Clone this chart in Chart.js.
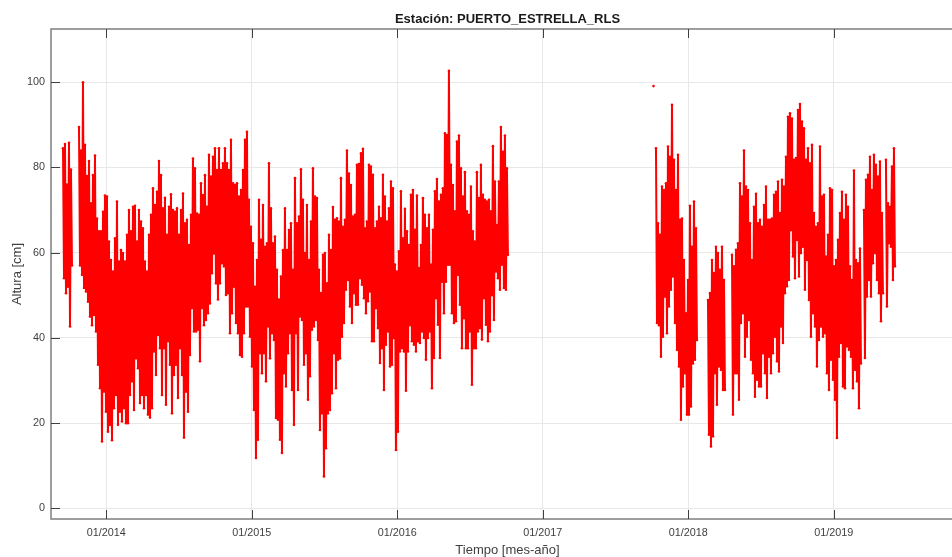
<!DOCTYPE html>
<html>
<head>
<meta charset="utf-8">
<title>PUERTO_ESTRELLA_RLS</title>
<script src="https://cdn.jsdelivr.net/npm/chart.js@4"></script>
<style>
    html, body { margin: 0; padding: 0; background: #fff; overflow: hidden; width: 952px; height: 557px; }
    canvas { display: block; }
</style>
</head>
<body>
<canvas id="tideChart" width="964" height="557"></canvas>
<script>
// DATA, one high and one low every few days (cm)
const startA = 2013.7024;
const highsA = [
    84.5, 85.5, 76, 85.8, 79.5, null, null, null, 89.5, 84, 100, 85.3, 78, 81.5, 71.6, 78.2, 82.8, 68, 65, 65,
    69.6, 73.4, 73.2, 62.6, 58.3, 55.6, 63.4, 72, 57.9, 60.6, 59.9, 57.9, 64.2, 70, 65, 70.8, 71, 62.6, 70, 67.3,
    65.7, 57.9, 55.6, 64.2, 68.9, 75.1, 71.2, 74.3, 81.5, 78.2, 70.4, 72.9, 64.2, 70.8, 73.7, 70, 69.6, 70.4, 64.2, 70,
    73.9, 66.9, 67.7, 61.8, 68.9, 82.1, 79.8, 69.2, 68.9, 76.3, 73.5,
    78.2, 70.8, 83, 77.9, 82.5, 84.5, 79.4, 84.5, 79.4, 81, 84.5, 81, 79.4, 86.5, 76.3, 75.9, 76.3, 73.2, 74.7, 79.4,
    86.5, 88.4, 72.4, 66.1, 62.2, 52, 58.3, 72.4, 63, 71.2, 61.4, 62.2, 81, 70.4, 62.2, 63.8, 56, 49, 54.4, 60.6,
    70.4, 60.6, 65.3, 66.9, 56, 77.5, 66.9, 68.5, 79.6, 72.4, 59.9, 71.2, 58.3, 67.3, 79.8, 73.2, 72.8, 56, 50.5, 59.5,
    59.9, 52.8, 64.2, 60.6, 70.7, 67.7, 68.1, 67.3, 77.5, 66.1, 67.7, 84, 78.6, 75.9, 68.5,
    68.9, 80.6, 80.8, 83.3, 84.4, 65.7, 67.3, 80.6, 80.2, 78.3, 65.7, 67.3, 70.8, 68.1, 78.3, 73.2, 67.3, 70.4, 76.7, 75.1,
    57.2, 55.6, 60.3, 74.4, 63.4, 70.3, 65, 61.8, 73.6, 74.7, 65.4, 73.4, 56.4, 61.8, 72.8, 68.9, 65.7, 68.9, 57.2, 65.4,
    74.4, 77.3, 72, 73.6, 75.1, 88, 87.6, 102.7, 80.6, 75.9, 69.7, 86.1, 87.5, 79.8, 73.2, 78.9, 69.7, 68.9, 75.5, 65,
    62.6, 78.9, 72.8, 80.6, 73.6, 72.4, 72, 72.4, 69.7, 85, 76.7, 66.5, 76.7, 89.5, 83.7, 87.5, 79.8
];
const lowsA = [
    54, 50.5, 52, 42.7, 57, null, null, null, 57, 54.8, 51.7, 50.9, 48.5, 45, 43, 45.4, 41.5, 33.7, 28.2, 15.7,
    27.4, 22.7, 18, 19.6, 16, 23.5, 26.6, 19.6, 22.7, 20.4, 23.5, 20, 20, 26.6, 29.8, 23.1, 35.2, 32.9, 24.7, 26.6,
    23.5, 26.6, 22, 21.3, 23.5, 36.8, 31.3, 40.7, 37.6, 26.6, 37.6, 24.3, 39.2, 33.7, 22.3, 31.3, 33.7, 25.9, 37.6, 31.3,
    16.6, 27.4, 22.7, 36, 47, 41.5, 41.5, 41.9, 34.5, 47, 43,
    44.2, 45.8, 48.1, 55.2, 59.8, 52.8, 49, 52.8, 57.5, 56.8, 50.1, 50.5, 41.1, 45.8, 52, 43.5, 41.1, 36, 35.6, 41.1,
    47.4, 47.4, 40.3, 33.3, 23.1, 11.8, 16.1, 36.4, 31.7, 36.4, 29.8, 42.7, 35.2, 41.1, 39.5, 21.2, 20.8, 16.1, 13, 31.7,
    28.6, 36.4, 41.1, 27.8, 19.6, 41.1, 27.8, 45, 44.2, 33.7, 36.4, 25.5, 31, 41.9, 42.7, 44.2, 39.5, 18.4, 22.3, 7.5,
    14.1, 22.3, 23.1, 27, 36.4, 28.2, 34.9, 35.2, 40.3, 43.5, 51.3, 53.6, 47.4, 43.5, 50.5,
    47.8, 47.8, 54, 52.5, 49.3, 45.8, 48.6, 50.9, 39.2, 39.2, 47, 42.3, 34.1, 37.6, 27.8, 38.4, 41.5, 33.3, 33.7, 40,
    13.7, 18, 36.8, 37.6, 36.8, 27.6, 36.8, 43, 39.2, 38.4, 36.8, 39.2, 38.8, 41.5, 40, 34.9, 40, 41.5, 28.2, 35.3,
    49.3, 43.1, 35.3, 53.2, 45.8, 53.2, 57.2, 57.2, 45.8, 43.5, 43.9, 54.8, 47.8, 37.6, 44.6, 37.6, 37.6, 41.5, 29, 37.6,
    37.6, 41.5, 42.3, 39.6, 49.3, 43.1, 39.2, 41.5, 50, 44.2, 55.6, 54, 51.3, 57.2, 51.7, 51.3, 59.5
];
const startB = 2017.778;
const highsB = [
    84.5, 66.9, 64.2, 75.5, 74.7, 76.3, 84.9, 82.5, 94.7, 81.8, 74.7, 83, 67.7, 68, 58.3, 45.8, 53.6, 71, 61.4, 72,
    65.7, null, null, null, null, null, 48.9, 50.5, 58.3, 55.2, 61.4, 59.9, 56, 61.4, 53.6, null, null, null,
    59.5, 56.8, 60.7, 62.2, 76.3, 73.2, 84, 75.5, 74.7, 66.9, 58.3, 70.8, 73.8, 66.9, 67.7, 66.1, 71.2, 75.5, 67.7, 67.7, 68, 73.6,
    74.3, 76.7, 69.3, 77.1, 75.5, 82.5, 91.9, 92.7, 91.5, 81.8, 82.2, 93.5, 94.9, 90.8, 89.2, 81.8, 84.5, 81, 85.3, 69.3,
    66.1, 66.9, 84.9, 73.2, 73.6, 59.1, 64.2, 75.1, 74.7, 56.8, 58.3, 63, 69.3, 74.3, 67.7, 73.6, 70.8, 56.8, 53.6, 79.3,
    58.3, 57.5, 61, null, 70, 77.1, 78.3, 82.5, 74.7, 83, 80.6, 77.9, 81.4, 69.3, null, 81.8, 71.6, 70.8, 80.2, 84.5
];
const lowsB = [
    43.5, 43, 35.6, 40.3, 49.7, 41.1, 47.4, 51.3, 54.4, 43.5, 37.2, 33.3, 20.8, 28.6, 31.7, 22, 22, 23.9, 34, 34.9,
    39.5, null, null, null, null, null, 17.3, 14.5, 16.9, 31.7, 24.3, 33.3, 32.5, 27.8, 27.8, null, null, null,
    22, 31.7, 31.7, 25.5, 43.5, 45.8, 35.6, 40.3, 44.2, 34.9, 31.7, 26.2, 30.2, 28.6, 28.6, 36.4, 31.7, 25.9, 35.6, 31.7, 36.4, 40.3,
    34.5, 32.1, 42.7, 38.8, 50.5, 52.1, 53.6, 65.3, 59.1, 54, 63, 54.4, 59.9, 61.4, 51.3, 58.3, 48.9, 40.3, 45.8, 42.7,
    33.3, 39.5, 42.7, 40.3, 41.1, 31.7, 27.8, 34.9, 30.2, 25.5, 16.5, 35.6, 38.8, 28.6, 28.2, 38, 37.2, 35.6, 28.2, 32.5,
    29.8, 23.5, 34, null, 35.3, 49.7, 53.6, 49.7, 57.5, 59.9, 53.6, 50.5, 43.9, 50.5, null, 47.4, 62.2, 61.4, 53.6, 56.8
];
const loneTime = [2017.761];
const loneHeight = [99.1];

const yTickValues = [0, 20, 40, 60, 80, 100];
const xTickValues = [2014, 2015, 2016, 2017, 2018, 2019];
const xTickLabels = ['01/2014', '01/2015', '01/2016', '01/2017', '01/2018', '01/2019'];

// one high and one low per sample, so the line saws up and down
const YEARS_PER_SAMPLE = 5.02 / 365.25;

function sawPoints(start, highs, lows) {
    const points = [];
    highs.forEach((high, i) => {
        const t = start + i * YEARS_PER_SAMPLE;
        points.push({ x: t, y: high });
        points.push({ x: t + YEARS_PER_SAMPLE / 2, y: lows[i] });
    });
    return points;
}

const seriesPoints = [
    ...sawPoints(startA, highsA, lowsA),
    { x: null, y: null },
    { x: loneTime[0], y: loneHeight[0] },
    { x: null, y: null },
    ...sawPoints(startB, highsB, lowsB)
];

const TEXT_COLOR = '#404040';
const BOX_COLOR = '#7f7f7f';
const GRID_COLOR = '#e8e8e8';

// matlab style box and inward ticks
const boxAndTicks = {
    id: 'boxAndTicks',
    afterDatasetsDraw(chart) {
        const { ctx, chartArea: area, scales } = chart;
        ctx.save();
        ctx.strokeStyle = BOX_COLOR;
        ctx.lineWidth = 1.5;
        ctx.beginPath();
        ctx.moveTo(area.right, area.top);
        ctx.lineTo(area.left, area.top);
        ctx.lineTo(area.left, area.bottom);
        ctx.lineTo(area.right, area.bottom);
        ctx.stroke();

        ctx.strokeStyle = TEXT_COLOR;
        ctx.lineWidth = 1;
        ctx.beginPath();
        xTickValues.forEach(v => {
            const px = Math.round(scales.x.getPixelForValue(v)) + 0.5;
            ctx.moveTo(px, area.top);
            ctx.lineTo(px, area.top + 9);
            ctx.moveTo(px, area.bottom);
            ctx.lineTo(px, area.bottom - 9);
        });
        yTickValues.forEach(v => {
            const py = Math.round(scales.y.getPixelForValue(v)) + 0.5;
            ctx.moveTo(area.left, py);
            ctx.lineTo(area.left + 9, py);
        });
        ctx.stroke();
        ctx.restore();
    }
};

const tideChart = new Chart(document.getElementById('tideChart').getContext('2d'), {
    type: 'line',
    data: {
        datasets: [{
            label: 'Altura',
            data: seriesPoints,
            borderColor: '#ff0000',
            borderWidth: 2,
            backgroundColor: '#ff0000',
            pointBackgroundColor: '#ff0000',
            pointBorderWidth: 0,
            pointRadius: 1.3,
            // non zero so chart.js keeps every vertex instead of its per pixel fast path
            tension: 0.0001,
            spanGaps: false,
            parsing: false,
            normalized: true
        }]
    },
    options: {
        responsive: false,
        animation: false,
        layout: { padding: 0, autoPadding: false },
        plugins: {
            legend: { display: false },
            tooltip: { enabled: false },
            title: {
                display: true,
                text: 'Estación: PUERTO_ESTRELLA_RLS',
                fullSize: false,
                color: '#1a1a1a',
                font: { family: '"Liberation Sans", Arial, sans-serif', size: 13, weight: 'bold' },
                padding: { top: 12, bottom: 1.4 }
            }
        },
        scales: {
            x: {
                type: 'linear',
                min: 2013.62,
                max: 2019.895,
                grid: { color: GRID_COLOR, drawTicks: false, lineWidth: 1 },
                border: { display: false },
                afterBuildTicks: scale => { scale.ticks = xTickValues.map(value => ({ value })); },
                // the last tick is not at the edge, so no room is needed for its label
                afterFit: scale => { scale.height = 38; scale.paddingLeft = 0; scale.paddingRight = 0; },
                ticks: {
                    autoSkip: false,
                    maxRotation: 0,
                    padding: 8,
                    color: TEXT_COLOR,
                    font: { family: '"Liberation Sans", Arial, sans-serif', size: 10.8 },
                    callback: value => xTickLabels[xTickValues.indexOf(value)]
                },
                title: {
                    display: true,
                    text: 'Tiempo [mes-año]',
                    color: TEXT_COLOR,
                    font: { family: '"Liberation Sans", Arial, sans-serif', size: 13 },
                    padding: { top: 0, bottom: -1 }
                }
            },
            y: {
                min: -2.5,
                max: 112.5,
                grid: { color: GRID_COLOR, drawTicks: false, lineWidth: 1 },
                border: { display: false },
                afterBuildTicks: scale => { scale.ticks = yTickValues.map(value => ({ value })); },
                afterFit: scale => { scale.width = 51; },
                ticks: {
                    padding: 6,
                    color: TEXT_COLOR,
                    font: { family: '"Liberation Sans", Arial, sans-serif', size: 10.8 }
                },
                title: {
                    display: true,
                    text: 'Altura [cm]',
                    color: TEXT_COLOR,
                    font: { family: '"Liberation Sans", Arial, sans-serif', size: 13 },
                    padding: { top: 10, bottom: 0 }
                }
            }
        }
    },
    plugins: [boxAndTicks]
});
</script>
</body>
</html>
